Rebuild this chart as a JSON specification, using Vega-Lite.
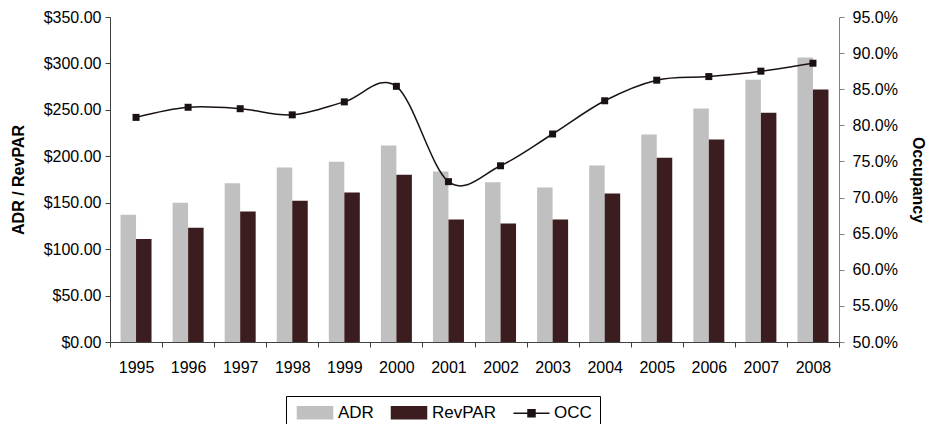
{
  "$schema": "https://vega.github.io/schema/vega-lite/v6.json",
  "width": 729,
  "height": 325,
  "autosize": {"type": "none"},
  "padding": {"left": 110, "top": 17, "right": 98, "bottom": 82},
  "background": "white",
  "config": {
    "view": {"stroke": null},
    "font": "Liberation Sans",
    "axis": {
      "labelFont": "Liberation Sans",
      "labelFontSize": 16,
      "labelColor": "#000",
      "titleFont": "Liberation Sans",
      "titleFontSize": 16,
      "titleColor": "#000",
      "titleFontWeight": "bold",
      "grid": false,
      "tickSize": 5
    }
  },
  "datasets": {
    "bars": [
      {"year": "1995", "series": "ADR", "value": 137},
      {"year": "1995", "series": "RevPAR", "value": 111},
      {"year": "1996", "series": "ADR", "value": 150},
      {"year": "1996", "series": "RevPAR", "value": 123},
      {"year": "1997", "series": "ADR", "value": 171},
      {"year": "1997", "series": "RevPAR", "value": 140.5},
      {"year": "1998", "series": "ADR", "value": 188},
      {"year": "1998", "series": "RevPAR", "value": 152},
      {"year": "1999", "series": "ADR", "value": 194},
      {"year": "1999", "series": "RevPAR", "value": 161},
      {"year": "2000", "series": "ADR", "value": 211.5},
      {"year": "2000", "series": "RevPAR", "value": 180},
      {"year": "2001", "series": "ADR", "value": 183.5},
      {"year": "2001", "series": "RevPAR", "value": 132},
      {"year": "2002", "series": "ADR", "value": 172},
      {"year": "2002", "series": "RevPAR", "value": 127.5},
      {"year": "2003", "series": "ADR", "value": 166.5},
      {"year": "2003", "series": "RevPAR", "value": 132},
      {"year": "2004", "series": "ADR", "value": 190},
      {"year": "2004", "series": "RevPAR", "value": 160},
      {"year": "2005", "series": "ADR", "value": 223.5},
      {"year": "2005", "series": "RevPAR", "value": 198.5},
      {"year": "2006", "series": "ADR", "value": 251.5},
      {"year": "2006", "series": "RevPAR", "value": 218},
      {"year": "2007", "series": "ADR", "value": 282.5},
      {"year": "2007", "series": "RevPAR", "value": 247},
      {"year": "2008", "series": "ADR", "value": 306.5},
      {"year": "2008", "series": "RevPAR", "value": 272}
    ],
    "occ": [
      {"year": "1995", "occ": 0.811},
      {"year": "1996", "occ": 0.825},
      {"year": "1997", "occ": 0.823},
      {"year": "1998", "occ": 0.8145},
      {"year": "1999", "occ": 0.8325},
      {"year": "2000", "occ": 0.854},
      {"year": "2001", "occ": 0.722},
      {"year": "2002", "occ": 0.744},
      {"year": "2003", "occ": 0.788},
      {"year": "2004", "occ": 0.834},
      {"year": "2005", "occ": 0.8625},
      {"year": "2006", "occ": 0.8675},
      {"year": "2007", "occ": 0.875},
      {"year": "2008", "occ": 0.886}
    ]
  },
  "layer": [
    {
      "data": {"name": "bars"},
      "mark": {"type": "bar"},
      "encoding": {
        "x": {
          "field": "year",
          "type": "ordinal",
          "scale": {"paddingInner": 0, "paddingOuter": 0},
          "axis": {
            "title": null,
            "labelAngle": 0,
            "tickBand": "extent",
            "domainColor": "#404040",
            "tickColor": "#404040",
            "labelPadding": 12
          }
        },
        "xOffset": {
          "field": "series",
          "type": "nominal",
          "sort": ["ADR", "RevPAR"],
          "scale": {"paddingOuter": 0.68, "paddingInner": 0}
        },
        "y": {
          "field": "value",
          "type": "quantitative",
          "scale": {"domain": [0, 350], "nice": false},
          "axis": {
            "title": "ADR / RevPAR",
            "values": [0, 50, 100, 150, 200, 250, 300, 350],
            "format": "$,.2f",
            "domainColor": "#404040",
            "tickColor": "#404040",
            "labelPadding": 4,
            "titlePadding": 17
          }
        },
        "color": {
          "field": "series",
          "type": "nominal",
          "scale": {"domain": ["ADR", "RevPAR", "OCC"], "range": ["#c0c0c0", "#3b1c1f", "#1a1212"]},
          "legend": {
            "title": null,
            "orient": "none",
            "legendX": 176,
            "legendY": 379,
            "direction": "horizontal",
            "strokeColor": "#000",
            "padding": 8,
            "symbolSize": 100,
            "labelFont": "Liberation Sans",
            "labelFontSize": 17,
            "labelColor": "#000",
            "labelOffset": 27,
            "columnPadding": 14,
            "encode": {
              "symbols": {
                "update": {
                  "shape": {"signal": "datum.value === 'OCC' ? 'M-1,0H6.2M1.9,-0.7H3.3V0.7H1.9Z' : 'M-1,-1.2H6V1.2H-1Z'"},
                  "fill": {"signal": "datum.value === 'ADR' ? '#c0c0c0' : datum.value === 'RevPAR' ? '#3b1c1f' : '#1a1212'"},
                  "stroke": {"signal": "datum.value === 'OCC' ? '#1a1212' : 'transparent'"},
                  "strokeWidth": {"value": 1.5},
                  "opacity": {"value": 1}
                }
              }
            }
          }
        }
      }
    },
    {
      "data": {"name": "occ"},
      "mark": {
        "type": "line",
        "interpolate": "cardinal",
        "strokeWidth": 1.5,
        "point": {"filled": true, "shape": "square", "size": 49, "opacity": 1}
      },
      "encoding": {
        "x": {"field": "year", "type": "ordinal"},
        "y": {
          "field": "occ",
          "type": "quantitative",
          "scale": {"domain": [0.5, 0.95], "nice": false, "zero": false},
          "axis": {
            "orient": "right",
            "title": "Occupancy",
            "format": ".1%",
            "values": [0.5, 0.55, 0.6, 0.65, 0.7, 0.75, 0.8, 0.85, 0.9, 0.95],
            "domainColor": "#808080",
            "tickColor": "#808080",
            "labelPadding": 8,
            "titlePadding": 12
          }
        },
        "color": {"datum": "OCC", "legend": null}
      }
    }
  ],
  "resolve": {"scale": {"y": "independent"}}
}
